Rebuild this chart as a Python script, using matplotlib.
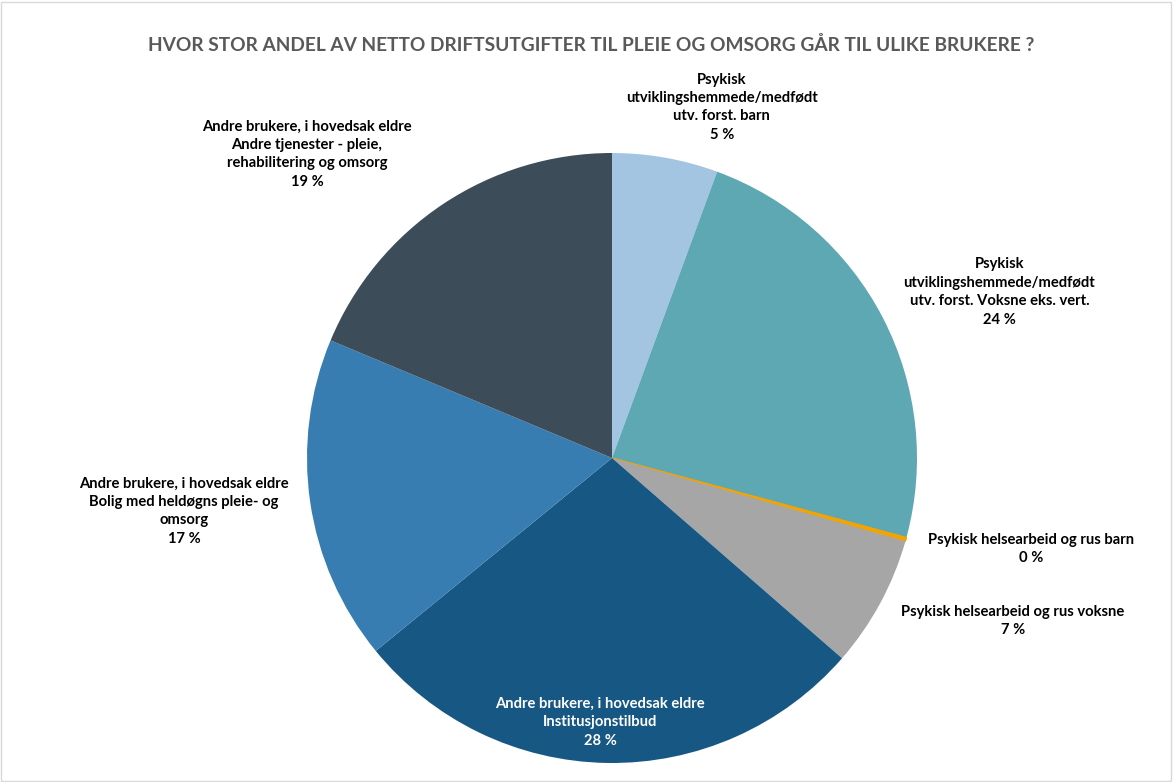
import matplotlib
matplotlib.use("Agg")
import matplotlib.pyplot as plt
from matplotlib.patches import Rectangle

plt.rcParams['font.family'] = ['Lato', 'DejaVu Sans']

title = "HVOR STOR ANDEL AV NETTO DRIFTSUTGIFTER TIL PLEIE OG OMSORG GÅR TIL ULIKE BRUKERE ?"
categories = [
    "Psykisk\nutviklingshemmede/medfødt\nutv. forst. barn",
    "Psykisk\nutviklingshemmede/medfødt\nutv. forst. Voksne eks. vert.",
    "Psykisk helsearbeid og rus barn",
    "Psykisk helsearbeid og rus voksne",
    "Andre brukere, i hovedsak eldre\nInstitusjonstilbud",
    "Andre brukere, i hovedsak eldre\nBolig med heldøgns pleie- og\nomsorg",
    "Andre brukere, i hovedsak eldre\nAndre tjenester - pleie,\nrehabilitering og omsorg",
]
values = [5.6, 23.6, 0.2, 7.0, 27.7, 17.2, 18.7]
pct_labels = ["5 %", "24 %", "0 %", "7 %", "28 %", "17 %", "19 %"]
colors = ["#A3C5E2", "#5EA8B4", "#F5A300", "#A6A6A6", "#175783", "#377DB1", "#3C4C59"]
label_pos = [(0.36, 1.15), (1.27, 0.544), (1.375, -0.298), (1.315, -0.534),
             (-0.039, -0.866), (-1.403, -0.174), (-1.0, 0.997)]
text_colors = ["black", "black", "black", "black", "white", "black", "black"]

W, H = 1173, 782
fig = plt.figure(figsize=(W / 100, H / 100), dpi=100)
cx, cy, r = 612, 458, 305
ax = fig.add_axes([(cx - r) / W, (H - cy - r) / H, 2 * r / W, 2 * r / H])
wedges, _ = ax.pie(values, colors=colors, startangle=90, counterclock=False, radius=1,
                   wedgeprops=dict(linewidth=0))
wedges[2].set_edgecolor(colors[2])
wedges[2].set_linewidth(1.0)
ax.set_xlim(-1, 1)
ax.set_ylim(-1, 1)
ax.set_aspect('equal')
ax.axis('off')

for cat, pct, (x, y), tc in zip(categories, pct_labels, label_pos, text_colors):
    ax.text(x, y, cat + "\n" + pct, ha='center', va='center', fontsize=10.6,
            fontweight='bold', color=tc, linespacing=1.4, clip_on=False)

fig.text(591 / W, 1 - 45 / H, title, ha='center', va='center', fontsize=13.8,
         fontweight='bold', color='#595959')

fig.patches.append(Rectangle((0.001, 0.001), 0.997, 0.997, transform=fig.transFigure,
                             fill=False, edgecolor='#D9D9D9', linewidth=1))

fig.savefig("out.png", dpi=100, facecolor='white')
